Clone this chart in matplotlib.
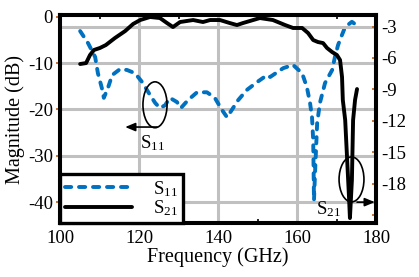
import matplotlib
matplotlib.use("Agg")
import matplotlib.pyplot as plt
from matplotlib.patches import Ellipse

plt.rcParams['font.family'] = ['Liberation Serif', 'DejaVu Serif']
plt.rcParams['mathtext.fontset'] = 'stix'
plt.rcParams['axes.unicode_minus'] = False

# S11 (left axis, dB)
s11_f = [105.1, 107.1, 108.9, 109.6, 110.6, 111.1, 112.2, 113.2, 115.2, 117.0, 119.0,
         120.8, 122.8, 124.1, 125.3, 126.6, 127.8, 129.6, 130.6, 132.4, 134.7, 137.2,
         139.2, 141.0, 142.3, 143.5, 145.1, 147.3, 149.9, 152.4, 153.2, 156.5, 159.0,
         161.3, 162.5, 163.3, 163.8, 164.1, 164.2, 164.3, 164.6, 165.1, 165.8, 167.1,
         167.8, 168.9, 169.6, 170.4, 171.4, 172.2, 173.9, 174.7]
s11_db = [-3.1, -5.7, -8.7, -12.2, -15.4, -17.5, -15.2, -12.6, -11.3, -11.5, -12.2,
          -14.1, -16.9, -18.6, -19.7, -19.1, -17.5, -18.4, -19.7, -18.0, -16.3, -16.3,
          -17.5, -20.1, -21.7, -20.1, -18.0, -15.8, -14.1, -12.6, -13.0, -11.1, -10.4,
          -12.2, -15.2, -18.6, -21.7, -26.6, -33.0, -39.6, -33.0, -23.0, -18.6, -14.3,
          -13.2, -11.5, -8.7, -6.1, -3.9, -2.2, -1.1, -1.6]

# S21 (right axis, dB)
s21_f = [105.1, 106.6, 107.6, 108.6, 110.1, 111.6, 113.9, 116.5, 118.5, 120.3, 122.8,
         125.3, 127.1, 128.6, 130.4, 133.7, 136.2, 138.0, 140.5, 143.0, 144.8, 146.3,
         150.6, 153.9, 157.0, 159.0, 161.3, 162.8, 164.1, 165.3, 166.6, 167.6, 168.9,
         170.1, 170.9, 171.4, 171.6, 172.2, 172.7, 173.2, 173.4, 173.9, 174.2, 174.7, 175.2]
s21_db = [-6.58, -6.49, -5.72, -5.24, -5.05, -4.77, -4.10, -3.43, -2.76, -2.38, -2.09,
          -2.19, -2.67, -3.05, -2.57, -2.38, -2.57, -2.38, -2.38, -2.67, -2.86, -2.67,
          -2.19, -2.38, -2.86, -3.14, -3.14, -3.62, -4.29, -4.48, -4.58, -5.05, -5.44,
          -5.72, -6.2, -7.82, -10.02, -11.93, -15.75, -19.57, -21.29, -17.66, -11.93, -10.0, -8.97]

x_ticks = [100, 120, 140, 160, 180]
y_left_ticks = [0, -10, -20, -30, -40]
y_right_ticks = [-3, -6, -9, -12, -15, -18, -21]
y_right_labels = ['-3', '-6', '-9', '-12', '-15', '-18', '']

blue = '#0070C0'
orange = '#C55A11'
grid_c = '#C0C0C0'
fs_tick = 13.5
fs_lab = 14.5

fig = plt.figure(figsize=(4.19, 2.77), dpi=100)
ax = fig.add_axes([60/419, 1-223/277, 316/419, 208/277])
ax2 = ax.twinx()

ax.set_xlim(100, 180)
ax.set_ylim(-44.5, 0.37)
ax2.set_ylim(-21.76, -1.9)

# grid
for xv in x_ticks[1:-1]:
    ax.axvline(xv, color=grid_c, lw=2.2, zorder=0)
for yv in y_left_ticks[1:]:
    ax.axhline(yv, color=grid_c, lw=2.2, zorder=0)
ax2.axhline(-3, color=grid_c, lw=2.2, zorder=0)

l1, = ax.plot(s11_f, s11_db, color=blue, lw=2.8, linestyle=(0, (1.6, 2.0)),
              dash_capstyle='round', label='S$_{\\mathregular{11}}$', zorder=3)
l2, = ax2.plot(s21_f, s21_db, color='black', lw=2.8, label='S$_{\\mathregular{21}}$',
               solid_capstyle='round', zorder=3)

ax.set_xticks(x_ticks)
ax.set_xticks([110, 130, 150, 170], minor=True)
ax.set_yticks(y_left_ticks)
ax2.set_yticks(y_right_ticks)
ax2.set_yticklabels(y_right_labels)

ax.tick_params(axis='x', which='major', length=0, labelsize=fs_tick, pad=5)
ax.tick_params(axis='x', which='minor', direction='in', length=3, width=1.2,
               top=True, bottom=True, color='black')
ax.tick_params(axis='y', length=3, width=1.2, color=orange, labelsize=fs_tick, pad=2)
ax2.tick_params(axis='y', direction='in', length=3, width=1.2, color=orange,
                labelsize=fs_tick, pad=4)

for a in (ax, ax2):
    for s in a.spines.values():
        s.set_linewidth(2.9)
        s.set_color('black')

ax.set_xlabel('Frequency (GHz)', fontsize=fs_lab, labelpad=0)
ax.set_ylabel('Magnitude (dB)', fontsize=fs_lab, labelpad=2)

leg = ax2.legend(handles=[l1, l2], loc='lower left', bbox_to_anchor=(0, 0),
                 borderaxespad=0, frameon=True, fancybox=False, framealpha=1,
                 edgecolor='black', fontsize=fs_tick, handlelength=3.6, handletextpad=1.1,
                 labelspacing=0.0, borderpad=0.25)
leg.get_frame().set_linewidth(2.4)
leg.set_zorder(5)

# annotations
ax.add_patch(Ellipse((124.05, -19.0), 6.1, 9.9, fill=False, ec='black', lw=1.2, zorder=4))
ax.annotate('', xy=(116.5, -23.8), xytext=(124.6, -23.8),
            arrowprops=dict(arrowstyle='-|>,head_length=0.6,head_width=0.25',
                            color='black', lw=1.2, shrinkA=0, shrinkB=0), zorder=4)
ax.text(123.5, -27.3, 'S$_{\\mathregular{11}}$', fontsize=fs_tick, ha='center', va='center', zorder=4)

ax.add_patch(Ellipse((173.8, -35.1), 6.3, 9.7, fill=False, ec='black', lw=1.2, zorder=4))
ax.annotate('', xy=(179.7, -40.0), xytext=(175.2, -40.0),
            arrowprops=dict(arrowstyle='-|>,head_length=0.6,head_width=0.25',
                            color='black', lw=1.2, shrinkA=0, shrinkB=0), zorder=4)
ax.text(168.1, -41.5, 'S$_{\\mathregular{21}}$', fontsize=fs_tick, ha='center', va='center', zorder=4)

fig.savefig('out.png', dpi=100)
